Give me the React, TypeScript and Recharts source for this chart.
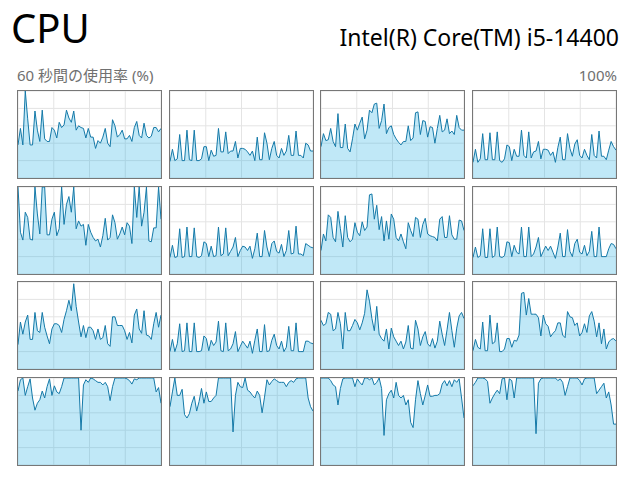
import { AreaChart, Area, XAxis, YAxis, CartesianGrid } from "recharts";

// 論理プロセッサごとの使用率 (%)、60 秒分
const cpu0 = [38, 57, 38, 100, 68, 38, 38, 77, 55, 42, 78, 45, 42, 42, 58, 55, 46, 64, 58, 61, 78, 69, 64, 77, 55, 60, 58, 57, 46, 57, 47, 47, 34, 43, 40, 47, 57, 40, 36, 67, 60, 47, 50, 55, 45, 45, 49, 42, 58, 65, 49, 46, 63, 49, 46, 48, 58, 58, 53, 57];
const cpu1 = [19, 33, 20, 22, 50, 20, 20, 55, 21, 20, 55, 20, 20, 22, 36, 36, 20, 32, 25, 26, 57, 30, 30, 53, 28, 31, 31, 42, 23, 34, 34, 33, 30, 26, 31, 20, 47, 21, 21, 52, 40, 21, 34, 42, 26, 23, 34, 26, 31, 49, 26, 26, 54, 26, 26, 23, 40, 38, 31, 31];
const cpu2 = [36, 51, 43, 44, 57, 42, 36, 74, 35, 35, 62, 34, 30, 45, 62, 55, 63, 70, 45, 55, 78, 75, 85, 86, 57, 66, 85, 51, 58, 60, 50, 45, 41, 38, 42, 42, 60, 43, 46, 75, 76, 50, 66, 65, 47, 59, 58, 40, 57, 72, 53, 55, 68, 51, 54, 50, 72, 58, 55, 55];
const cpu3 = [18, 33, 18, 22, 51, 21, 21, 52, 21, 21, 53, 20, 18, 22, 38, 36, 20, 33, 25, 25, 55, 26, 23, 53, 23, 30, 31, 42, 22, 33, 33, 32, 26, 30, 18, 35, 47, 21, 21, 51, 34, 25, 39, 44, 26, 23, 33, 26, 21, 50, 26, 23, 54, 25, 25, 21, 32, 42, 36, 32];
const cpu4 = [100, 48, 39, 71, 65, 40, 39, 100, 69, 46, 100, 100, 45, 45, 63, 71, 44, 52, 100, 57, 80, 89, 71, 100, 52, 61, 55, 57, 33, 57, 48, 42, 38, 40, 31, 44, 64, 39, 42, 68, 59, 40, 46, 54, 45, 59, 55, 35, 100, 65, 100, 55, 71, 100, 38, 37, 53, 53, 100, 63];
const cpu5 = [19, 33, 19, 20, 52, 19, 20, 54, 20, 20, 53, 20, 19, 21, 37, 35, 20, 32, 20, 21, 54, 21, 23, 53, 21, 26, 31, 42, 20, 27, 32, 31, 27, 32, 18, 29, 47, 20, 20, 50, 31, 20, 35, 38, 26, 24, 34, 20, 27, 50, 23, 24, 55, 23, 23, 21, 35, 33, 31, 30];
const cpu6 = [27, 46, 38, 68, 65, 42, 37, 72, 52, 31, 67, 42, 37, 40, 59, 48, 44, 60, 50, 54, 91, 92, 63, 79, 51, 66, 38, 61, 40, 69, 63, 42, 38, 46, 37, 29, 59, 50, 43, 65, 63, 42, 57, 64, 46, 44, 43, 42, 38, 63, 66, 42, 42, 67, 45, 40, 40, 62, 61, 50];
const cpu7 = [19, 31, 19, 21, 52, 19, 19, 52, 19, 21, 54, 20, 19, 21, 37, 36, 20, 33, 25, 23, 54, 20, 20, 54, 20, 23, 31, 42, 20, 26, 32, 27, 32, 25, 18, 31, 47, 20, 20, 51, 26, 20, 35, 40, 25, 23, 33, 21, 26, 49, 20, 20, 54, 20, 20, 20, 29, 35, 34, 29];
const cpu8 = [28, 54, 40, 54, 62, 34, 34, 65, 44, 42, 65, 48, 38, 29, 46, 52, 52, 50, 42, 57, 67, 79, 67, 98, 72, 54, 37, 50, 36, 48, 48, 44, 34, 46, 34, 36, 50, 29, 26, 60, 60, 50, 50, 50, 44, 34, 42, 30, 62, 69, 46, 41, 67, 39, 38, 34, 52, 65, 48, 62];
const cpu9 = [20, 34, 20, 29, 52, 20, 21, 53, 20, 20, 53, 20, 20, 21, 38, 35, 21, 33, 27, 31, 55, 21, 20, 53, 21, 23, 29, 43, 20, 26, 32, 28, 24, 32, 18, 33, 46, 20, 20, 51, 20, 21, 33, 40, 27, 23, 32, 20, 25, 49, 21, 21, 53, 20, 20, 20, 32, 32, 30, 29];
const cpu10 = [56, 50, 52, 65, 63, 44, 46, 65, 52, 23, 65, 44, 44, 50, 57, 53, 45, 53, 64, 91, 78, 58, 44, 72, 40, 35, 32, 46, 23, 47, 37, 32, 27, 32, 23, 31, 50, 24, 23, 56, 46, 27, 37, 43, 29, 26, 35, 24, 32, 55, 40, 27, 45, 65, 44, 25, 47, 61, 65, 58];
const cpu11 = [21, 34, 25, 23, 54, 21, 21, 62, 29, 31, 53, 20, 20, 23, 35, 35, 25, 33, 32, 39, 87, 88, 62, 81, 63, 63, 63, 59, 38, 62, 52, 49, 37, 41, 44, 53, 53, 39, 36, 66, 60, 59, 50, 53, 38, 42, 52, 42, 61, 66, 55, 37, 53, 29, 46, 23, 31, 34, 35, 32];
const cpu12 = [85, 98, 100, 80, 90, 99, 77, 63, 71, 75, 85, 77, 90, 99, 80, 91, 84, 82, 90, 100, 100, 100, 100, 100, 100, 100, 40, 92, 98, 95, 100, 99, 97, 95, 95, 92, 95, 90, 74, 90, 100, 100, 100, 100, 100, 99, 97, 93, 99, 98, 100, 100, 100, 100, 100, 100, 100, 84, 89, 71];
const cpu13 = [67, 84, 100, 80, 80, 87, 58, 54, 59, 71, 79, 62, 73, 88, 71, 84, 73, 73, 77, 80, 100, 100, 100, 100, 100, 100, 38, 80, 95, 90, 89, 100, 86, 84, 80, 77, 85, 80, 60, 78, 98, 92, 96, 99, 97, 95, 95, 95, 90, 95, 97, 95, 99, 100, 100, 100, 100, 77, 67, 62];
const cpu14 = [100, 100, 100, 100, 97, 92, 90, 69, 88, 99, 100, 100, 100, 100, 90, 99, 95, 92, 100, 100, 98, 100, 92, 95, 100, 88, 34, 75, 82, 86, 77, 95, 80, 77, 80, 69, 75, 49, 43, 75, 97, 82, 69, 80, 92, 79, 79, 80, 80, 82, 93, 97, 91, 97, 90, 98, 95, 99, 77, 54];
const cpu15 = [91, 95, 100, 100, 100, 99, 96, 71, 77, 82, 86, 82, 99, 100, 75, 99, 97, 77, 100, 100, 100, 100, 100, 100, 100, 100, 36, 94, 99, 100, 100, 100, 100, 100, 100, 97, 99, 95, 80, 90, 100, 100, 100, 100, 97, 92, 99, 100, 100, 100, 100, 82, 86, 90, 94, 77, 84, 69, 47, 47];

const cores = [cpu0, cpu1, cpu2, cpu3, cpu4, cpu5, cpu6, cpu7, cpu8, cpu9, cpu10, cpu11, cpu12, cpu13, cpu14, cpu15];

// グリッド線 (x は 60 秒を 4 分割、y は 20% 刻み)
const gridX = [14.75, 29.5, 44.25];
const gridY = [20, 40, 60, 80];

const title = "CPU";
const modelName = "Intel(R) Core(TM) i5-14400";
const axisLabel = "60 秒間の使用率 (%)";
const maxLabel = "100%";

const FONT = '"Noto Sans", "Noto Sans CJK JP", sans-serif';
const LINE = "#1479a8";

function CoreChart({ values }: { values: number[] }) {
  const data = values.map((v, i) => ({ t: i, v }));
  return (
    <AreaChart width={143} height={87} data={data} margin={{ top: 0, right: 0, left: 0, bottom: 0 }}>
      <CartesianGrid stroke="#e4e4e4" strokeWidth={1} />
      <XAxis dataKey="t" type="number" domain={[0, 59]} ticks={gridX} interval={0} hide />
      <YAxis type="number" domain={[0, 100]} ticks={gridY} interval={0} hide />
      <Area
        type="linear"
        dataKey="v"
        stroke={LINE}
        strokeWidth={1}
        fill="#17a9e0"
        fillOpacity={0.27}
        dot={false}
        activeDot={false}
        isAnimationActive={false}
      />
    </AreaChart>
  );
}

export default function App() {
  return (
    <div style={{ position: "absolute", left: 0, top: 0, width: 634, height: 482, background: "#fff", fontFamily: FONT }}>
      <div style={{ position: "absolute", left: 11, top: 8, fontSize: 40, lineHeight: "40px", color: "#000" }}>{title}</div>
      <div style={{ position: "absolute", right: 15, top: 26, fontSize: 23, lineHeight: "23px", color: "#000", whiteSpace: "nowrap" }}>
        {modelName}
      </div>
      <div style={{ position: "absolute", left: 17, top: 68, fontSize: 15, lineHeight: "15px", color: "#707070", whiteSpace: "nowrap" }}>
        {axisLabel}
      </div>
      <div style={{ position: "absolute", right: 17, top: 68, fontSize: 15, lineHeight: "15px", color: "#707070" }}>{maxLabel}</div>
      {cores.map((values, i) => {
        const col = i % 4;
        const row = Math.floor(i / 4);
        return (
          <div
            key={i}
            style={{
              position: "absolute",
              left: 17 + Math.round(col * 151.5),
              top: 90 + Math.round(row * 95.7),
              width: 145,
              height: 89,
              border: "1px solid #777",
              boxSizing: "border-box",
              overflow: "hidden",
            }}
          >
            <CoreChart values={values} />
          </div>
        );
      })}
    </div>
  );
}
